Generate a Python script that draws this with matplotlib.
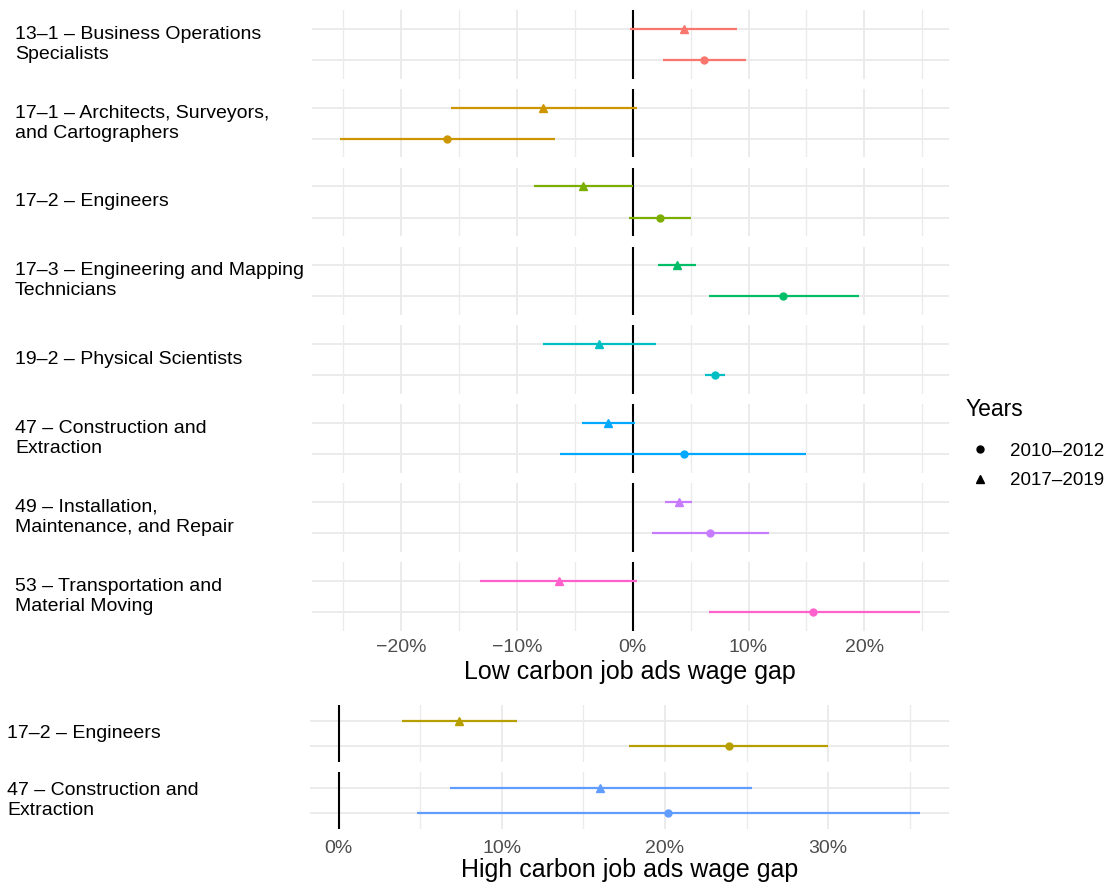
import matplotlib
matplotlib.use("Agg")
import matplotlib.pyplot as plt
from matplotlib.lines import Line2D
from matplotlib.ticker import FuncFormatter, MultipleLocator

plt.rcParams['font.family'] = ['Liberation Sans', 'DejaVu Sans']

W, H = 1114, 886

# low carbon panel (values in %)
low_labels = ["13–1 – Business Operations\nSpecialists",
              "17–1 – Architects, Surveyors,\nand Cartographers",
              "17–2 – Engineers",
              "17–3 – Engineering and Mapping\nTechnicians",
              "19–2 – Physical Scientists",
              "47 – Construction and\nExtraction",
              "49 – Installation,\nMaintenance, and Repair",
              "53 – Transportation and\nMaterial Moving"]
low_colors = ["#F8766D", "#CD9600", "#7CAE00", "#00BE67",
              "#00BFC4", "#00A9FF", "#C77CFF", "#FF61CC"]
low_est_2010 = [6.15, -16.0, 2.4, 13.0, 7.1, 4.4, 6.7, 15.6]
low_lo_2010 = [2.6, -25.3, -0.3, 6.6, 6.2, -6.3, 1.7, 6.6]
low_hi_2010 = [9.8, -6.7, 5.0, 19.5, 8.0, 15.0, 11.8, 24.8]
low_est_2017 = [4.4, -7.7, -4.3, 3.85, -2.9, -2.1, 3.96, -6.4]
low_lo_2017 = [-0.2, -15.7, -8.5, 2.2, -7.7, -4.4, 2.8, -13.2]
low_hi_2017 = [9.0, 0.36, 0.0, 5.5, 2.0, 0.2, 5.1, 0.4]

# high carbon panel (values in %)
high_labels = ["17–2 – Engineers", "47 – Construction and\nExtraction"]
high_colors = ["#B79F00", "#619CFF"]
high_est_2010 = [23.9, 20.2]
high_lo_2010 = [17.8, 4.8]
high_hi_2010 = [30.0, 35.6]
high_est_2017 = [7.4, 16.0]
high_lo_2017 = [3.9, 6.8]
high_hi_2017 = [10.9, 25.3]

years = ["2010–2012", "2017–2019"]


def box(left, top, right, bottom):
    return [left / W, 1 - bottom / H, (right - left) / W, (bottom - top) / H]


def pct(v, pos):
    s = "%d%%" % round(v)
    return s.replace("-", "−")


def facet(ax, color, est, lo, hi, xlim, show_ticks, pad=6):
    # row 1 = 2010-2012 (circle), row 2 = 2017-2019 (triangle)
    ax.hlines([1, 2], [lo[0], lo[1]], [hi[0], hi[1]], color=color, lw=1.6, zorder=3)
    ax.plot(est[0], 1, marker="o", color=color, ms=5, zorder=4)
    ax.plot(est[1], 2, marker="^", color=color, ms=6, zorder=4)
    ax.axvline(0, color="black", lw=1.5, zorder=2)
    ax.set_xlim(xlim)
    ax.set_ylim(0.4, 2.6)
    ax.set_yticks([1, 2])
    ax.set_yticklabels([])
    ax.xaxis.set_major_locator(MultipleLocator(10))
    ax.xaxis.set_minor_locator(MultipleLocator(5))
    ax.xaxis.set_major_formatter(FuncFormatter(pct))
    ax.grid(which="major", color="#EBEBEB", lw=1.4, zorder=0)
    ax.grid(which="minor", axis="x", color="#EBEBEB", lw=1.0, zorder=0)
    ax.tick_params(which="both", length=0, labelsize=14, labelcolor="#4D4D4D", pad=pad)
    if not show_ticks:
        ax.set_xticklabels([])
    for s in ax.spines.values():
        s.set_visible(False)
    ax.set_axisbelow(True)


fig = plt.figure(figsize=(W / 100, H / 100), dpi=100)

n = len(low_labels)
for i in range(n):
    top = 10 + i * 78.86
    ax = fig.add_axes(box(311.7, top, 949, top + 68.5))
    facet(ax, low_colors[i], [low_est_2010[i], low_est_2017[i]],
          [low_lo_2010[i], low_lo_2017[i]], [low_hi_2010[i], low_hi_2017[i]],
          (-27.7, 27.3), i == n - 1)
    fig.text(15 / W, 1 - (top + 34.25) / H, low_labels[i], ha="left", va="center",
             fontsize=14, linespacing=1.22)
    if i == n - 1:
        ax.set_xlabel("Low carbon job ads wage gap", fontsize=18, labelpad=3)

for i in range(len(high_labels)):
    top = 705 + i * 67
    ax = fig.add_axes(box(310.4, top, 949, top + 57))
    facet(ax, high_colors[i], [high_est_2010[i], high_est_2017[i]],
          [high_lo_2010[i], high_lo_2017[i]], [high_hi_2010[i], high_hi_2017[i]],
          (-1.73, 37.4), i == len(high_labels) - 1, pad=8)
    fig.text(7 / W, 1 - (top + 28.5) / H, high_labels[i], ha="left", va="center",
             fontsize=14, linespacing=1.22)
    if i == len(high_labels) - 1:
        ax.set_xlabel("High carbon job ads wage gap", fontsize=18, labelpad=1)

fig.text(966 / W, 1 - 410 / H, "Years", ha="left", va="center", fontsize=16.5)
handles = [Line2D([], [], ls="none", marker="o", color="black", ms=5),
           Line2D([], [], ls="none", marker="^", color="black", ms=6)]
fig.legend(handles, years, loc="center left", bbox_to_anchor=(952 / W, 1 - 466 / H),
           frameon=False, fontsize=13.5, handlelength=1.2, handletextpad=1.0,
           labelspacing=0.68)

fig.savefig("out.png", dpi=100)
